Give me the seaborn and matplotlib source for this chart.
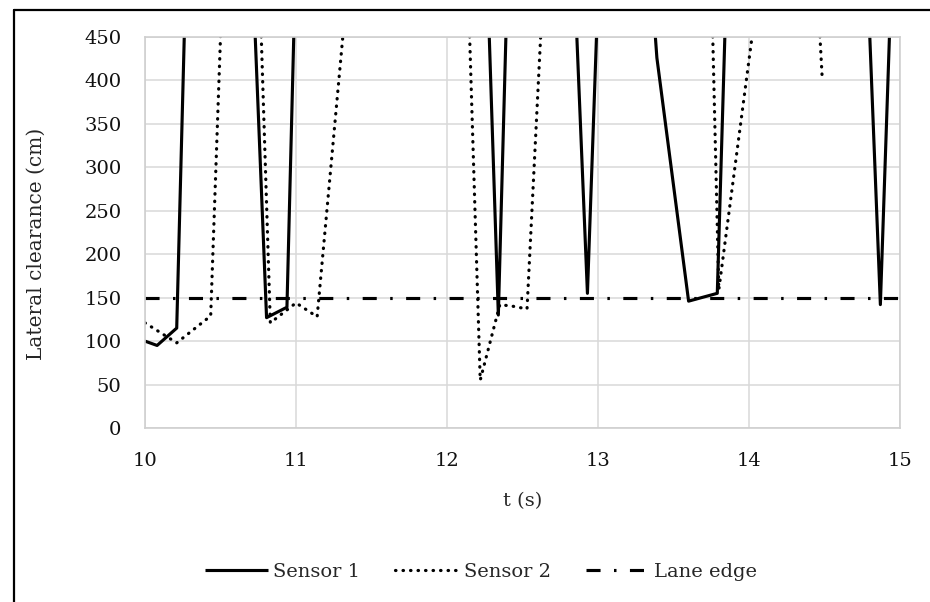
import matplotlib
matplotlib.use("Agg")
import matplotlib.pyplot as plt
import seaborn as sns
import pandas as pd
from matplotlib.lines import Line2D

# ---- data ----
s1_t = [10.00, 10.08, 10.21, 10.30, 10.70, 10.805, 10.94, 11.00, 12.25, 12.34, 12.42,
        12.83, 12.93, 13.02, 13.35, 13.39, 13.60, 13.79, 13.86, 14.77, 14.87, 14.96, 15.00]
s1_v = [100, 95, 115, 718, 579, 127, 139, 553, 610, 130, 642,
        576, 155, 598, 522, 426, 146, 155, 568, 582, 142, 604, 620]

s2_t = [10.00, 10.21, 10.435, 10.55, 10.73, 10.83, 11.00, 11.14, 11.35, 12.10, 12.22,
        12.35, 12.44, 12.53, 12.66, 13.72, 13.80, 14.06, 14.44, 14.485]
s2_v = [121, 98, 129, 697, 670, 121, 144, 128, 526, 732, 55,
        142, 140, 137, 589, 741, 159, 503, 546, 402]

lane_t = [10.0, 15.0]
lane_v = [150, 150]

x_ticks = [10, 11, 12, 13, 14, 15]
y_ticks = [0, 50, 100, 150, 200, 250, 300, 350, 400, 450]
series_names = ["Sensor 1", "Sensor 2", "Lane edge"]

# ---- style ----
sns.set_theme(style="white")
plt.rcParams["font.family"] = ["DejaVu Serif"]
plt.rcParams["font.size"] = 14

W, H = 930, 602
fig = plt.figure(figsize=(W / 100, H / 100), dpi=100)
ax = fig.add_axes([145 / W, (H - 428) / H, (900 - 145) / W, (428 - 37) / H])

df1 = pd.DataFrame({"t": s1_t, "v": s1_v})
df2 = pd.DataFrame({"t": s2_t, "v": s2_v})
df3 = pd.DataFrame({"t": lane_t, "v": lane_v})

sns.lineplot(data=df1, x="t", y="v", ax=ax, color="black", lw=2.25,
             estimator=None, label=series_names[0], solid_capstyle="butt")
sns.lineplot(data=df2, x="t", y="v", ax=ax, color="black", lw=2.3,
             estimator=None, label=series_names[1],
             linestyle=(0, (0.15, 2.2)), dash_capstyle="round")
sns.lineplot(data=df3, x="t", y="v", ax=ax, color="black", lw=2.25,
             estimator=None, label=series_names[2],
             linestyle=(0, (4.5, 4.3, 0.8, 4.3)))

ax.set_xlim(10, 15)
ax.set_ylim(0, 450)
ax.set_xticks(x_ticks)
ax.set_yticks(y_ticks)
ax.set_xticklabels([str(v) for v in x_ticks])
ax.set_yticklabels([str(v) for v in y_ticks])
ax.tick_params(axis="both", length=0, labelsize=14, colors="#111111")
ax.tick_params(axis="y", pad=17)
ax.tick_params(axis="x", pad=17)
ax.grid(True, color="#d9d9d9", lw=1.1)
ax.set_axisbelow(True)
for sp in ax.spines.values():
    sp.set_color("#cfcfcf")
    sp.set_linewidth(1.2)

ax.set_xlabel("t (s)", fontsize=14, labelpad=16)
ax.set_ylabel("Lateral clearance (cm)", fontsize=14.5)
ax.yaxis.set_label_coords(-0.132, 0.47)

leg = ax.get_legend()
if leg is not None:
    leg.remove()
handles, labels = ax.get_legend_handles_labels()
fig.legend(handles, labels, loc="center", bbox_to_anchor=(481 / W, 1 - 572 / H),
           ncol=3, frameon=False, fontsize=14, handlelength=3.2,
           handletextpad=0.3, columnspacing=1.8)

# chart-area border (top and left edges visible)
fig.add_artist(Line2D([14 / W, 14 / W], [0, 1 - 10 / H], transform=fig.transFigure,
                      color="black", lw=1.6))
fig.add_artist(Line2D([14 / W, 1], [1 - 10 / H, 1 - 10 / H], transform=fig.transFigure,
                      color="black", lw=1.6))

fig.savefig("out.png", dpi=100, facecolor="white")
